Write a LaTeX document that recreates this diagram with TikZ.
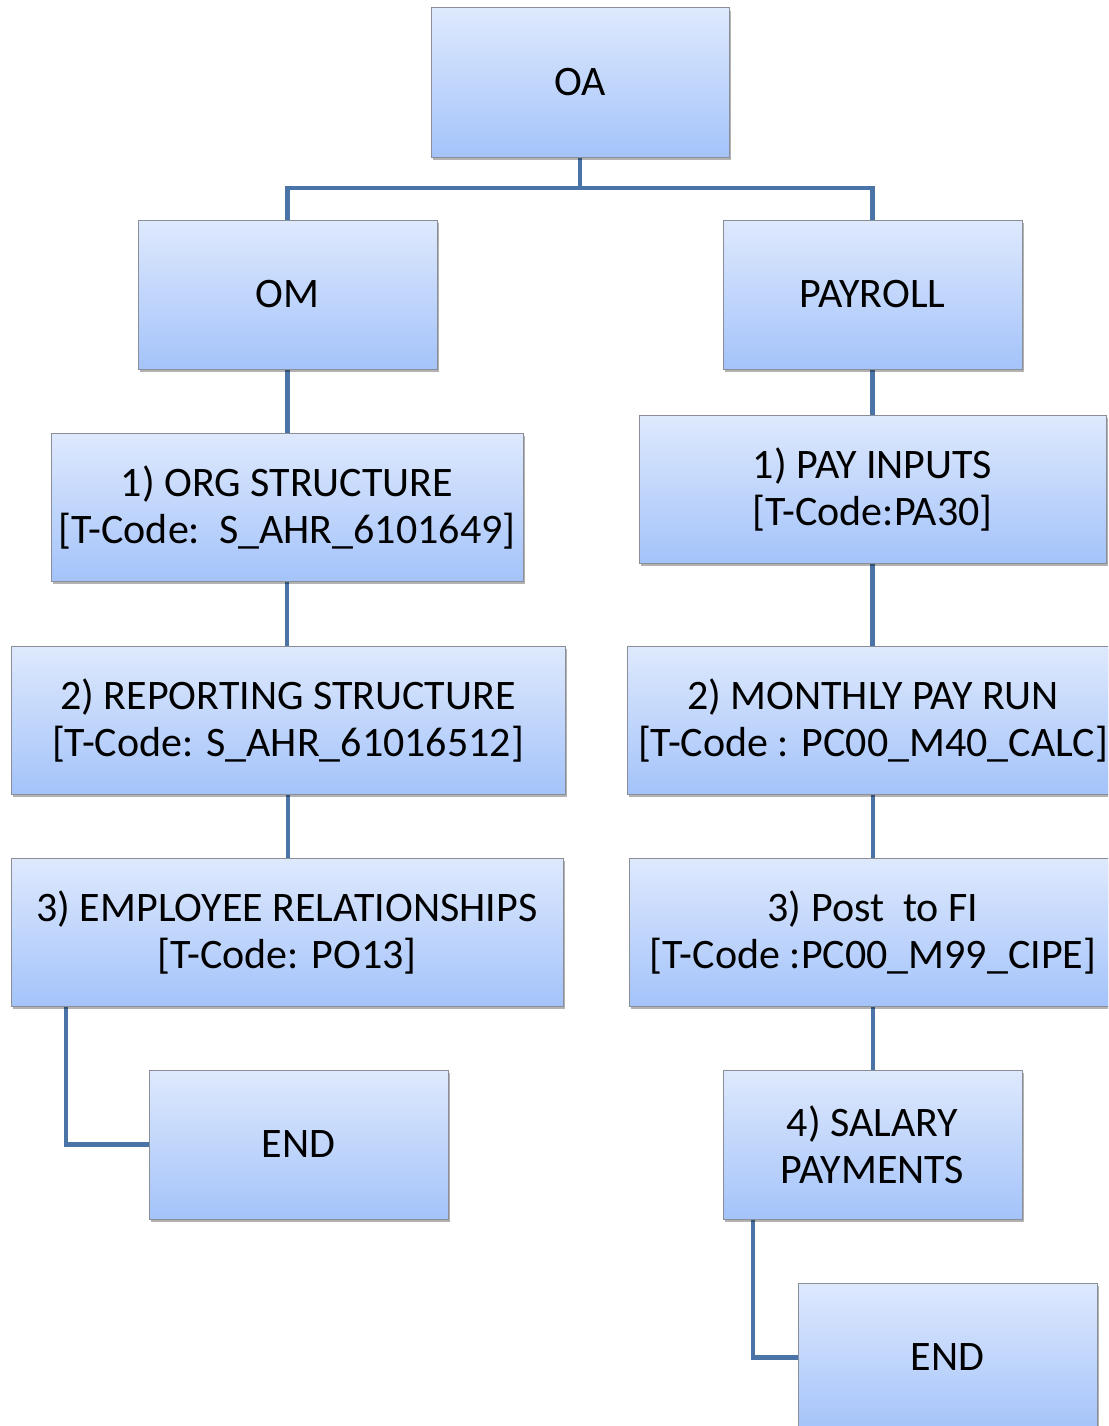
\documentclass[tikz,border=0pt]{standalone}
\usepackage{fontspec}
\setmainfont{Carlito}
\usetikzlibrary{shadows,backgrounds}
\definecolor{boxtop}{HTML}{DEE9FD}
\definecolor{boxbot}{HTML}{A4C3FA}
\definecolor{boxline}{HTML}{8A8E96}
\definecolor{conn}{HTML}{4A74A8}
\tikzset{
  box/.style={rectangle, draw=boxline, line width=1pt, top color=boxtop, bottom color=boxbot,
    inner sep=0pt, outer sep=0pt, align=center,
    font=\fontsize{42}{47}\selectfont,
    drop shadow={shadow xshift=2pt, shadow yshift=-3pt, opacity=0.3, fill=black}},
  link/.style={draw=conn, line width=4.5pt}
}
\begin{document}
\begin{tikzpicture}[x=1pt,y=-1pt]
\useasboundingbox (0,0) rectangle (1108,1426);
\clip (0,0) rectangle (1108,1426);
\node[box, minimum width=298pt, minimum height=149pt] (OA) at (580,82.5) {OA};
\node[box, minimum width=299pt, minimum height=149pt] (OM) at (287.5,294.5) {OM};
\node[box, minimum width=299pt, minimum height=149pt] (PAY) at (872.5,294.5) {PAYROLL};
\node[box, minimum width=472pt, minimum height=148pt] (ORG) at (287,507) {1) ORG STRUCTURE\\{}[T-Code:\ \ S\_AHR\_6101649]};
\node[box, minimum width=467pt, minimum height=148pt] (PIN) at (872.5,489) {1) PAY INPUTS\\{}[T-Code:PA30]};
\node[box, minimum width=554pt, minimum height=148pt] (REP) at (288,720) {2) REPORTING STRUCTURE\\{}[T-Code: S\_AHR\_61016512]};
\node[box, minimum width=492pt, minimum height=148pt] (MON) at (873,720) {2) MONTHLY PAY RUN\\{}[T-Code : PC00\_M40\_CALC]};
\node[box, minimum width=552pt, minimum height=148pt] (EMP) at (287,932) {3) EMPLOYEE RELATIONSHIPS\\{}[T-Code: PO13]};
\node[box, minimum width=488pt, minimum height=148pt] (FI) at (873,932) {3) Post\ \ to FI\\{}[T-Code :PC00\_M99\_CIPE]};
\node[box, minimum width=299pt, minimum height=149pt] (ENDL) at (298.5,1144.5) {END};
\node[box, minimum width=299pt, minimum height=149pt] (SAL) at (872.5,1144.5) {4) SALARY\\PAYMENTS};
\node[box, minimum width=299pt, minimum height=149pt] (ENDR) at (947.5,1357.5) {END};
\begin{pgfonlayer}{background}
\coordinate (bus) at (580,188);
\draw[link] (OA.south) -- (bus);
\draw[link] (OM.north) |- (bus) -| (PAY.north);
\draw[link] (OM.south) -- (ORG.north -| OM.south);
\draw[link] (ORG.south) -- (REP.north -| ORG.south);
\draw[link] (REP.south) -- (EMP.north -| REP.south);
\draw[link] (PAY.south) -- (PIN.north -| PAY.south);
\draw[link] (PIN.south) -- (MON.north -| PIN.south);
\draw[link] (MON.south) -- (FI.north -| MON.south);
\draw[link] (FI.south) -- (SAL.north -| FI.south);
\draw[link] ([xshift=55pt]EMP.south west) |- (ENDL.west);
\draw[link] ([xshift=30pt]SAL.south west) |- (ENDR.west);
\end{pgfonlayer}
\end{tikzpicture}
\end{document}
